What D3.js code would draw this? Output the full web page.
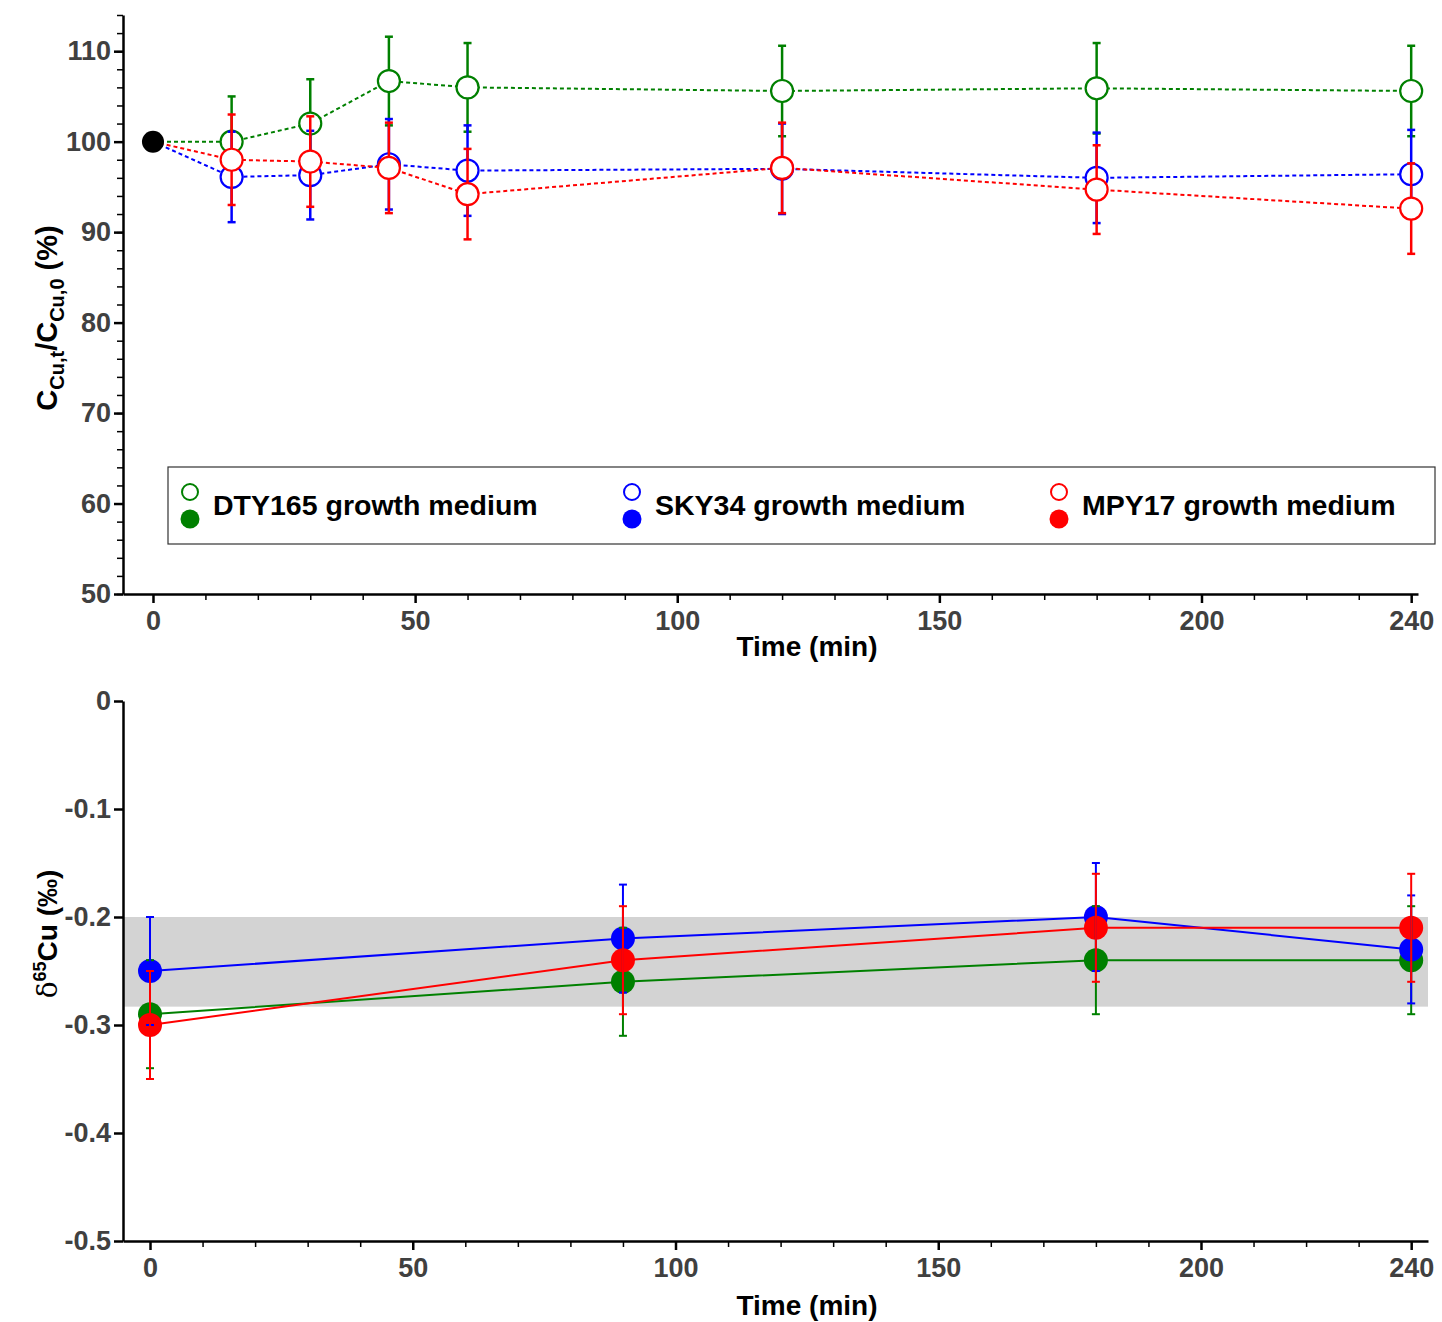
<!DOCTYPE html>
<html>
<head>
<meta charset="utf-8">
<script src="https://cdn.jsdelivr.net/npm/d3@7"></script>
<style>
body { margin: 0; background: #fff; }
svg { font-family: "Liberation Sans", Arial, sans-serif; }
.axis path, .axis line { stroke: #000; stroke-width: 2.5; }
.axis text { font-weight: bold; font-size: 27px; fill: #404040; }
.minor line { stroke: #000; stroke-width: 1.5; }
.minor path { display: none; }
</style>
</head>
<body>
<div id="container"></div>
<script>
// top panel: relative Cu concentration (%)
var timesTop = [0, 15, 30, 45, 60, 120, 180, 240];
var dtyTop = [100, 100, 102, 106.7, 106, 105.6, 105.9, 105.6];
var dtyTopErr = [0, 5, 4.9, 4.9, 4.9, 5, 5, 5];
var skyTop = [100, 96.1, 96.3, 97.5, 96.8, 97, 96, 96.4];
var skyTopErr = [0, 5, 4.9, 5, 5, 5, 5, 4.9];
var mpyTop = [100, 98, 97.8, 97.1, 94.2, 97.1, 94.7, 92.6];
var mpyTopErr = [0, 5, 5, 5, 5, 5, 4.9, 5];

// bottom panel: delta 65Cu (permil)
var timesBot = [0, 90, 180, 240];
var dtyBot = [-0.29, -0.26, -0.24, -0.24];
var dtyBotErr = [0.05, 0.05, 0.05, 0.05];
var skyBot = [-0.25, -0.22, -0.20, -0.23];
var skyBotErr = [0.05, 0.05, 0.05, 0.05];
var mpyBot = [-0.30, -0.24, -0.21, -0.21];
var mpyBotErr = [0.05, 0.05, 0.05, 0.05];
var bandBot = [-0.2, -0.283];

var xTicks = [0, 50, 100, 150, 200, 240];
var yTopTicks = [50, 60, 70, 80, 90, 100, 110];
var yBotTicks = [0, -0.1, -0.2, -0.3, -0.4, -0.5];
var legendNames = ["DTY165 growth medium", "SKY34 growth medium", "MPY17 growth medium"];
var colors = ["#008000", "#0000ff", "#ff0000"];

var w = 1442, h = 1322;
var svg = d3.select("#container").append("svg")
	.attr("width", w)
	.attr("height", h);

var minorX = d3.range(0, 241, 10).filter(function(d){ return xTicks.indexOf(d) < 0; });

// ---------- top panel ----------
var xT = d3.scaleLinear().domain([-5.72, 241.3]).range([123, 1418]);
var yT = d3.scaleLinear().domain([50, 114]).range([594, 15]);

svg.append("g").attr("class", "axis minor")
	.attr("transform", "translate(0,594)")
	.call(d3.axisBottom(xT).tickValues(minorX).tickSize(6).tickFormat(""));
svg.append("g").attr("class", "axis minor")
	.attr("transform", "translate(123,0)")
	.call(d3.axisLeft(yT).tickValues(d3.range(50, 115, 2)).tickSize(6).tickFormat(""));

svg.append("g").attr("class", "axis")
	.attr("transform", "translate(0,594)")
	.call(d3.axisBottom(xT).tickValues(xTicks).tickSize(9).tickSizeOuter(0).tickPadding(8));
svg.append("g").attr("class", "axis")
	.attr("transform", "translate(123,0)")
	.call(d3.axisLeft(yT).tickValues(yTopTicks).tickSize(9).tickSizeOuter(0).tickPadding(3));

var topSeries = [
	{vals: dtyTop, err: dtyTopErr},
	{vals: skyTop, err: skyTopErr},
	{vals: mpyTop, err: mpyTopErr}
];

topSeries.forEach(function(s, k){
	var pts = timesTop.map(function(t, i){ return {t: t, v: s.vals[i], e: s.err[i]}; });
	var g = svg.append("g");

	g.append("path")
		.datum(pts)
		.attr("fill", "none")
		.attr("stroke", colors[k])
		.attr("stroke-width", 2)
		.attr("stroke-dasharray", "4,3")
		.attr("d", d3.line().x(function(d){ return xT(d.t); }).y(function(d){ return yT(d.v); }));

	var eb = g.selectAll(".eb").data(pts.filter(function(d){ return d.e > 0; }))
		.enter().append("g")
		.attr("stroke", colors[k])
		.attr("stroke-width", 2.5);
	eb.append("line")
		.attr("x1", function(d){ return xT(d.t); })
		.attr("x2", function(d){ return xT(d.t); })
		.attr("y1", function(d){ return yT(d.v - d.e); })
		.attr("y2", function(d){ return yT(d.v + d.e); });
	[-1, 1].forEach(function(sg){
		eb.append("line")
			.attr("x1", function(d){ return xT(d.t) - 4; })
			.attr("x2", function(d){ return xT(d.t) + 4; })
			.attr("y1", function(d){ return yT(d.v + sg * d.e); })
			.attr("y2", function(d){ return yT(d.v + sg * d.e); });
	});

	g.selectAll("circle").data(pts.slice(1))
		.enter().append("circle")
		.attr("cx", function(d){ return xT(d.t); })
		.attr("cy", function(d){ return yT(d.v); })
		.attr("r", 11)
		.attr("fill", "#fff")
		.attr("stroke", colors[k])
		.attr("stroke-width", 2.2);
});

// shared starting point
svg.append("circle")
	.attr("cx", xT(timesTop[0]))
	.attr("cy", yT(dtyTop[0]))
	.attr("r", 11)
	.attr("fill", "#000");

// legend
svg.append("rect")
	.attr("x", 168).attr("y", 467)
	.attr("width", 1267).attr("height", 77)
	.attr("fill", "#fff")
	.attr("stroke", "#333")
	.attr("stroke-width", 1.2);

var legX = [190, 632, 1059];
legendNames.forEach(function(name, k){
	svg.append("circle")
		.attr("cx", legX[k]).attr("cy", 492).attr("r", 8)
		.attr("fill", "#fff").attr("stroke", colors[k]).attr("stroke-width", 2);
	svg.append("circle")
		.attr("cx", legX[k]).attr("cy", 519).attr("r", 9.5)
		.attr("fill", colors[k]);
	svg.append("text")
		.attr("x", legX[k] + 23).attr("y", 515)
		.attr("font-size", "28.5px")
		.attr("font-weight", "bold")
		.attr("fill", "#000")
		.text(name);
});

svg.append("text")
	.attr("x", 807).attr("y", 656)
	.attr("text-anchor", "middle")
	.attr("font-size", "28px")
	.attr("font-weight", "bold")
	.text("Time (min)");

var ttl = svg.append("text")
	.attr("transform", "translate(57,318) rotate(-90)")
	.attr("text-anchor", "middle")
	.attr("font-size", "29px")
	.attr("font-weight", "bold");
ttl.append("tspan").text("C");
ttl.append("tspan").attr("font-size", "20px").attr("dy", 7).text("Cu,t");
ttl.append("tspan").attr("dy", -7).text("/C");
ttl.append("tspan").attr("font-size", "20px").attr("dy", 7).text("Cu,0");
ttl.append("tspan").attr("dy", -7).text(" (%)");

// ---------- bottom panel ----------
var xB = d3.scaleLinear().domain([-5.14, 243.2]).range([123, 1428]);
var yB = d3.scaleLinear().domain([-0.5, 0]).range([1241, 701]);

svg.append("rect")
	.attr("x", 123)
	.attr("y", yB(bandBot[0]))
	.attr("width", xB(243.2) - 123)
	.attr("height", yB(bandBot[1]) - yB(bandBot[0]))
	.attr("fill", "#d3d3d3");

svg.append("g").attr("class", "axis minor")
	.attr("transform", "translate(0,1241)")
	.call(d3.axisBottom(xB).tickValues(minorX).tickSize(6).tickFormat(""));
svg.append("g").attr("class", "axis")
	.attr("transform", "translate(0,1241)")
	.call(d3.axisBottom(xB).tickValues(xTicks).tickSize(9).tickSizeOuter(0).tickPadding(8));
svg.append("g").attr("class", "axis")
	.attr("transform", "translate(123,0)")
	.call(d3.axisLeft(yB).tickValues(yBotTicks).tickSize(9).tickSizeOuter(0).tickPadding(3)
		.tickFormat(function(d){ return d === 0 ? "0" : d.toFixed(1); }));

var botSeries = [
	{vals: dtyBot, err: dtyBotErr},
	{vals: skyBot, err: skyBotErr},
	{vals: mpyBot, err: mpyBotErr}
];

botSeries.forEach(function(s, k){
	var pts = timesBot.map(function(t, i){ return {t: t, v: s.vals[i], e: s.err[i]}; });
	svg.append("path")
		.datum(pts)
		.attr("fill", "none")
		.attr("stroke", colors[k])
		.attr("stroke-width", 2)
		.attr("d", d3.line().x(function(d){ return xB(d.t); }).y(function(d){ return yB(d.v); }));
	svg.append("g").selectAll("circle").data(pts)
		.enter().append("circle")
		.attr("cx", function(d){ return xB(d.t); })
		.attr("cy", function(d){ return yB(d.v); })
		.attr("r", 12)
		.attr("fill", colors[k]);
});

// error bars are drawn above all markers here
botSeries.forEach(function(s, k){
	var pts = timesBot.map(function(t, i){ return {t: t, v: s.vals[i], e: s.err[i]}; });
	var eb = svg.append("g").selectAll("g").data(pts)
		.enter().append("g")
		.attr("stroke", colors[k])
		.attr("stroke-width", 2);
	eb.append("line")
		.attr("x1", function(d){ return xB(d.t); })
		.attr("x2", function(d){ return xB(d.t); })
		.attr("y1", function(d){ return yB(d.v - d.e); })
		.attr("y2", function(d){ return yB(d.v + d.e); });
	[-1, 1].forEach(function(sg){
		eb.append("line")
			.attr("x1", function(d){ return xB(d.t) - 4; })
			.attr("x2", function(d){ return xB(d.t) + 4; })
			.attr("y1", function(d){ return yB(d.v + sg * d.e); })
			.attr("y2", function(d){ return yB(d.v + sg * d.e); });
	});
});

svg.append("text")
	.attr("x", 807).attr("y", 1315)
	.attr("text-anchor", "middle")
	.attr("font-size", "28px")
	.attr("font-weight", "bold")
	.text("Time (min)");

var ttl2 = svg.append("text")
	.attr("transform", "translate(57,934) rotate(-90)")
	.attr("text-anchor", "middle")
	.attr("font-size", "28px")
	.attr("font-weight", "bold");
ttl2.append("tspan").attr("font-weight", "normal").attr("font-family", "DejaVu Serif, serif").text("δ");
ttl2.append("tspan").attr("font-size", "18px").attr("dy", -11).text("65");
ttl2.append("tspan").attr("dy", 11).text("Cu (‰)");
</script>
</body>
</html>
